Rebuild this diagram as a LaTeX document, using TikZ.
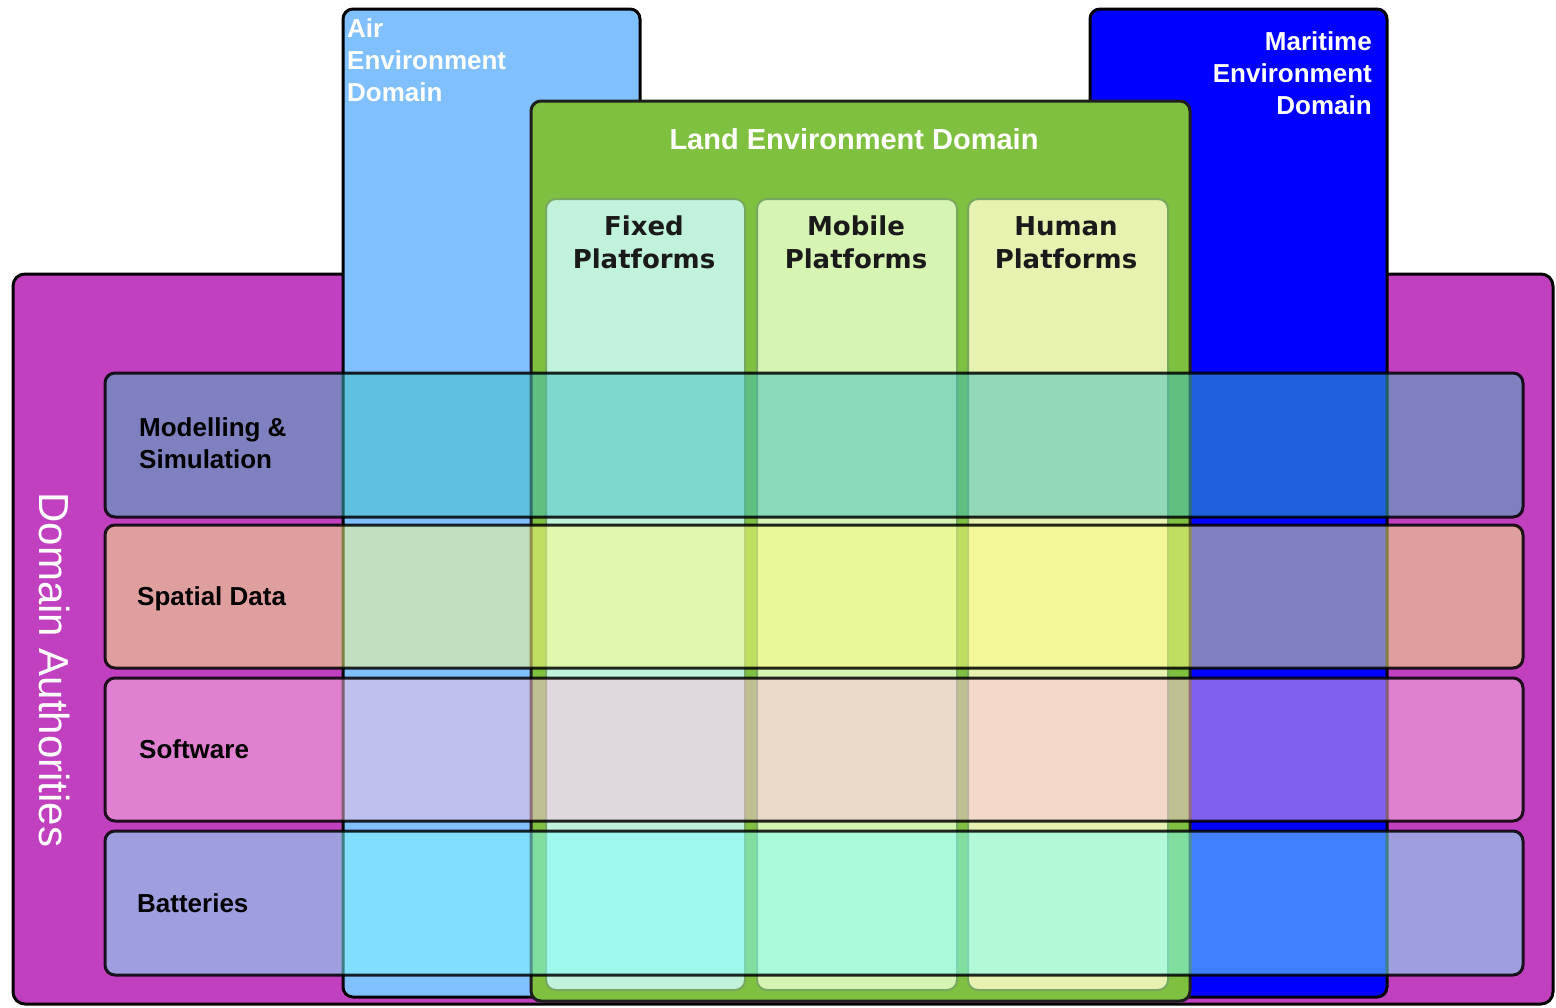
\documentclass[tikz,border=0pt]{standalone}
\usepackage{fontspec}
\setmainfont{Liberation Sans}
\newfontfamily\platfont{DejaVu Sans}
\definecolor{purp}{HTML}{C040C0}
\definecolor{airc}{HTML}{80C0FF}
\definecolor{marc}{HTML}{0000FF}
\definecolor{landc}{HTML}{80C040}
\definecolor{fixc}{HTML}{C0F2DC}
\definecolor{mobc}{HTML}{D6F4B2}
\definecolor{humc}{HTML}{E8F2B0}
\definecolor{platedge}{HTML}{78A860}
\definecolor{rowA}{RGB}{64,192,192}
\definecolor{rowB}{RGB}{255,255,128}
\definecolor{rowC}{RGB}{255,192,224}
\definecolor{rowD}{RGB}{128,255,255}
\definecolor{plattext}{HTML}{1A1A1A}
\begin{document}
\begin{tikzpicture}[x=1pt,y=-1pt,
  outerbox/.style={draw=black, line width=3pt, rounded corners=12pt},
  colbox/.style={draw=black, line width=3pt, rounded corners=10pt},
  platbox/.style={draw=platedge, line width=2pt, rounded corners=10pt},
  rowbox/.style={draw=black, draw opacity=0.85, line width=3pt, rounded corners=10pt, fill opacity=0.5},
  whitelbl/.style={text=white, inner sep=0pt, font=\bfseries\fontsize{26}{32}\selectfont},
  rowlbl/.style={text=black, inner sep=0pt, align=left, anchor=base west, font=\bfseries\fontsize{26}{32}\selectfont},
  platlbl/.style={text=plattext, inner sep=0pt, align=center, anchor=base, font=\platfont\bfseries\fontsize{26}{33}\selectfont}
]
\useasboundingbox (0,0) rectangle (1556,1007);
% Domain authorities container
\draw[outerbox, fill=purp] (13,274) rectangle (1553,1004);
\node[text=white, inner sep=0pt, rotate=-90, font=\fontsize{42}{48}\selectfont] (da) at (55,670) {Domain Authorities};
% Air domain
\draw[colbox, fill=airc] (343,9) rectangle (640,997);
\node[whitelbl, align=left, anchor=base west] (air) at (347,101) {Air\\Environment\\Domain};
% Maritime domain
\draw[colbox, fill=marc] (1090,9) rectangle (1387,997);
\node[whitelbl, align=right, anchor=base east] (mar) at (1372,114) {Maritime\\Environment\\Domain};
% Land domain
\draw[colbox, draw=black!88, fill=landc] (531,101) rectangle (1190,1001);
\node[whitelbl, anchor=base, font=\bfseries\fontsize{29}{32}\selectfont] (land) at (854,149) {Land Environment Domain};
% Platforms
\draw[platbox, fill=fixc] (546,199) rectangle (745,990);
\draw[platbox, fill=mobc] (757,199) rectangle (957,990);
\draw[platbox, fill=humc] (968,199) rectangle (1168,990);
\node[platlbl] (fixed) at (644,268) {Fixed\\Platforms};
\node[platlbl] (mobile) at (856,268) {Mobile\\Platforms};
\node[platlbl] (human) at (1066,268) {Human\\Platforms};
% Rows
\draw[rowbox, fill=rowA] (105,373) rectangle (1523,517);
\draw[rowbox, fill=rowB] (105,525) rectangle (1523,668);
\draw[rowbox, fill=rowC] (105,678) rectangle (1523,821);
\draw[rowbox, fill=rowD] (105,831) rectangle (1523,975);
\node[rowlbl] (ms) at (139,468) {Modelling \&\\Simulation};
\node[rowlbl] (sd) at (137,605) {Spatial Data};
\node[rowlbl] (sw) at (139,758) {Software};
\node[rowlbl] (bt) at (137,912) {Batteries};
\end{tikzpicture}
\end{document}
